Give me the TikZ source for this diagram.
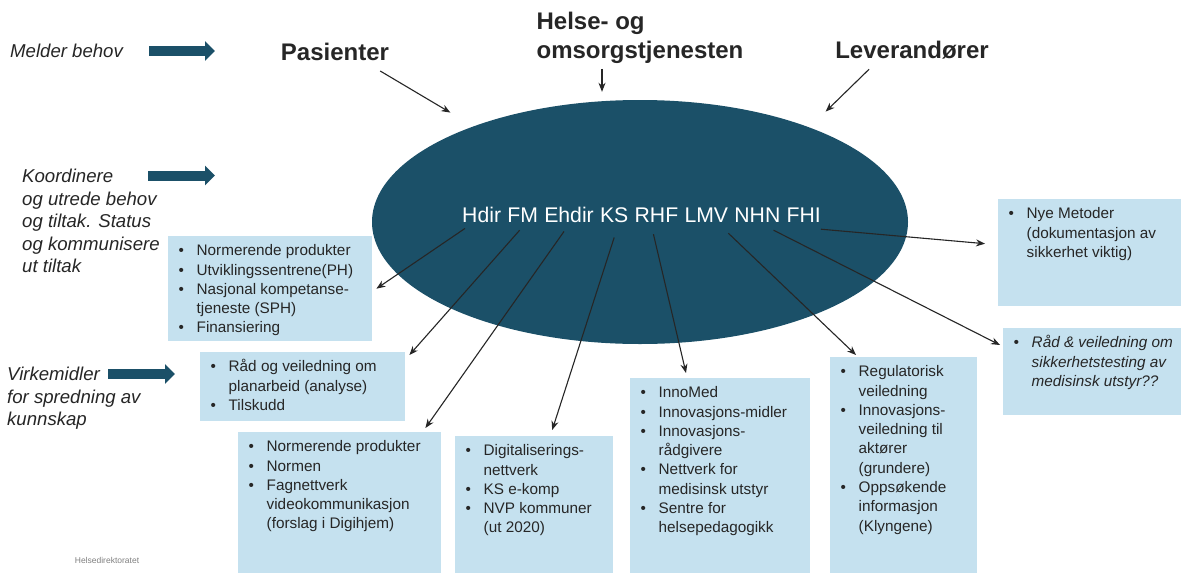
\documentclass[tikz,border=0pt]{standalone}
\usepackage{fontspec}
\setmainfont{Liberation Sans}
\usetikzlibrary{positioning,shapes.geometric,arrows.meta}

\definecolor{hubblue}{RGB}{27,80,104}
\definecolor{boxblue}{RGB}{197,225,239}
\definecolor{inktext}{RGB}{38,38,38}

\newcommand{\itm}[1]{\par\noindent\hangindent=18pt\hangafter=1\strut\makebox[18pt][l]{\textbullet}#1}
\newcommand{\boxtext}[3]{\parbox[t][#2][t]{#1}{\raggedright #3}}

\begin{document}
\begin{tikzpicture}[x=1pt,y=-1pt]
  \tikzset{infobox/.style = {fill=boxblue, anchor=north west, inner xsep=10.5pt, inner ysep=6pt, text=inktext, font=\fontsize{15.3}{19.3}\selectfont}}
  \tikzset{side/.style = {font=\fontsize{18.6}{22.5}\selectfont\itshape, align=left, inner sep=0pt, text=inktext}}
  \tikzset{actor/.style = {font=\fontsize{24}{29}\selectfont\bfseries, align=left, inner sep=0pt, text=inktext}}
  \tikzset{org/.style = {font=\fontsize{21.2}{25}\selectfont, text=white, inner sep=0pt}}
  \tikzset{conn/.style = {-{Stealth[length=9pt,width=7pt]}, line width=1.1pt, draw=inktext}}
  \tikzset{bigarrow/.style = {-{Triangle[length=10pt,width=19pt]}, line width=10pt, draw=hubblue}}

\path[use as bounding box, fill=white] (0,0) rectangle (1181,573);

% venstre kolonne
\node[side, anchor=west] (melder) at (10,51) {Melder behov};
\node[side, anchor=north west] (koord) at (22,169) {Koordinere\\og utrede behov\\og tiltak. Status\\og kommunisere\\ut tiltak};
\node[side, anchor=north west] (virke) at (7,367) {Virkemidler\\for spredning av\\kunnskap};

\coordinate (m2) at (215,51);
\coordinate (k1) at (148,175.5);
\coordinate (k2) at (215,175.5);
\coordinate (v1) at (108,374);
\coordinate (v2) at (175,374);

\draw[bigarrow] ([xshift=26pt]melder.east) -- (m2);
\draw[bigarrow] (k1) -- (k2);
\draw[bigarrow] (v1) -- (v2);

% aktører
\node[actor] (pas) at (335,52) {Pasienter};
\node[actor] (helse) at (640,38) {Helse- og\\omsorgstjenesten};
\node[actor] (lev) at (912,50) {Leverandører};

\node[ellipse, fill=hubblue, minimum width=536pt, minimum height=244pt, inner sep=0pt] (hub) at (640,222) {};

\node[org, anchor=base west] (hdir) at (462,222) {Hdir};
\node[org, base right=5.9pt of hdir] (fm) {FM};
\node[org, base right=5.9pt of fm] (ehdir) {Ehdir};
\node[org, base right=5.9pt of ehdir] (ks) {KS};
\node[org, base right=5.9pt of ks] (rhf) {RHF};
\node[org, base right=5.9pt of rhf] (lmv) {LMV};
\node[org, base right=5.9pt of lmv] (nhn) {NHN};
\node[org, base right=5.9pt of nhn] (fhi) {FHI};

\draw[conn] ([xshift=-9pt,yshift=-10pt]pas.south east) -- ([yshift=23pt]hub.north west);
\draw[conn] ([xshift=-38pt,yshift=-5pt]helse.south) -- ([xshift=-38pt,yshift=8pt]hub.north);
\draw[conn] ([xshift=34pt,yshift=-10pt]lev.south west) -- ([xshift=-4pt,yshift=24pt]hub.north east);

% tiltak
\node[infobox] (box1) at (168,236) {\boxtext{183pt}{93pt}{\itm{Normerende produkter}\itm{Utviklingssentrene(PH)}\itm{Nasjonal kompetanse-\newline tjeneste (SPH)}\itm{Finansiering}}};
\node[infobox] (box2) at (200,352) {\boxtext{184pt}{57pt}{\itm{Råd og veiledning om\newline planarbeid (analyse)}\itm{Tilskudd}}};
\node[infobox] (box3) at (238,432) {\boxtext{182pt}{129pt}{\itm{Normerende produkter}\itm{Normen}\itm{Fagnettverk\newline videokommunikasjon\newline (forslag i Digihjem)}}};
\node[infobox] (box4) at (455,436) {\boxtext{137pt}{125pt}{\itm{Digitaliserings-\newline nettverk}\itm{KS e-komp}\itm{NVP kommuner\newline (ut 2020)}}};
\node[infobox] (box5) at (630,378) {\boxtext{159pt}{183pt}{\itm{InnoMed}\itm{Innovasjons-midler}\itm{Innovasjons-\newline rådgivere}\itm{Nettverk for\newline medisinsk utstyr}\itm{Sentre for\newline helsepedagogikk}}};
\node[infobox] (box6) at (830,357) {\boxtext{126pt}{204pt}{\itm{Regulatorisk\newline veiledning}\itm{Innovasjons-\newline veiledning til\newline aktører\newline (grundere)}\itm{Oppsøkende\newline informasjon\newline (Klyngene)}}};
\node[infobox] (box7) at (998,199) {\boxtext{171pt}{95pt}{\itm{Nye Metoder\newline (dokumentasjon av\newline sikkerhet viktig)}}};
\node[infobox] (box8) at (1003,328) {\boxtext{166pt}{75pt}{\itshape\itm{Råd \& veiledning om\newline sikkerhetstesting av\newline medisinsk utstyr??}}};

\draw[conn] ([xshift=3pt,yshift=-6pt]hdir.south west) -- ([xshift=4pt]box1.east);
\draw[conn] ([xshift=-3pt,yshift=-8pt]fm.south) -- ([xshift=4pt,yshift=-3pt]box2.north east);
\draw[conn] ([xshift=-5pt,yshift=-9pt]ehdir.south) -- ([xshift=-16pt,yshift=4pt]box3.north east);
\draw[conn] ([yshift=-15pt]ks.south) -- ([xshift=18pt,yshift=6pt]box4.north);
\draw[conn] ([xshift=-3pt,yshift=-12pt]rhf.south) -- ([xshift=56pt,yshift=5pt]box5.north west);
\draw[conn] ([yshift=-11pt]lmv.south east) -- ([xshift=26pt,yshift=2pt]box6.north west);
\draw[conn] ([xshift=-7pt,yshift=-8pt]nhn.south east) -- ([xshift=-3pt,yshift=-17pt]box8.north west);
\draw[conn] ([yshift=-7pt]fhi.south east) -- ([xshift=-13pt,yshift=9pt]box7.west);

\node[font=\fontsize{8.5}{10}\selectfont, text=gray, inner sep=0pt] (footer) at (107,560) {Helsedirektoratet};

\end{tikzpicture}
\end{document}
